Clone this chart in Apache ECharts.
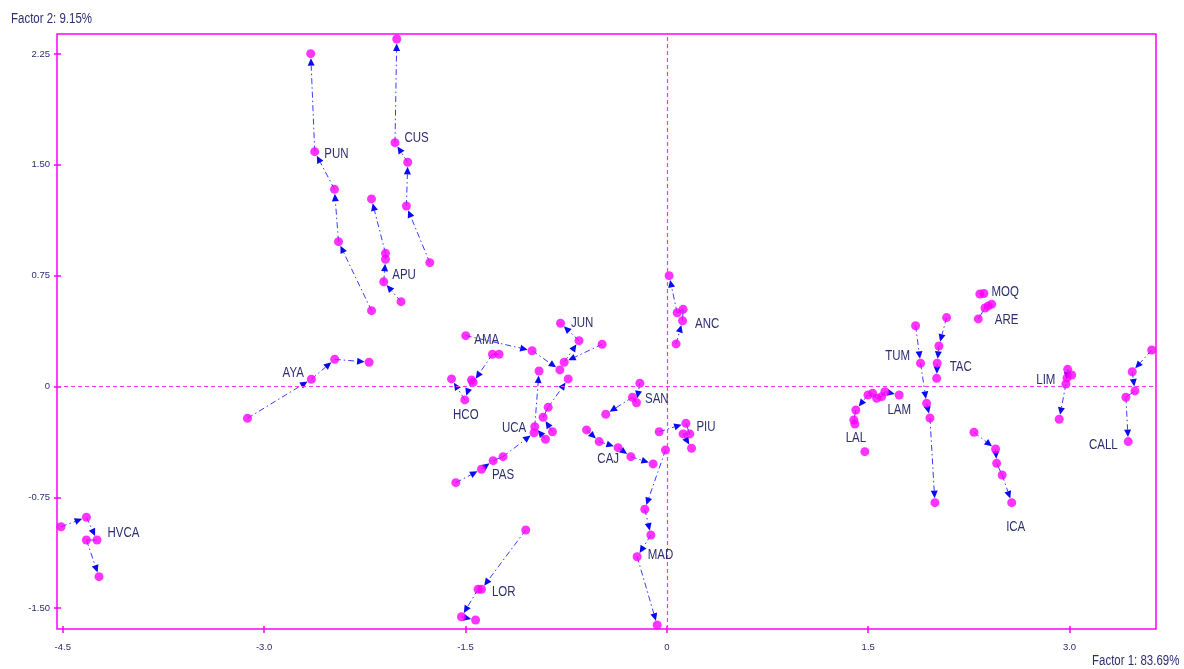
<!DOCTYPE html>
<html>
<head>
<meta charset="utf-8">
<script src="https://cdn.jsdelivr.net/npm/echarts@6/dist/echarts.min.js"></script>
<style>
html,body{margin:0;padding:0;background:#fff;}
#chart{width:1184px;height:669px;}
</style>
</head>
<body>
<div id="chart"></div>
<script>
// ---- Data (Factor 1, Factor 2) per department trajectory ----
const PUN  = [[-2.200,0.513],[-2.446,0.980],[-2.476,1.334],[-2.623,1.589],[-2.653,2.252]];
const CUS  = [[-1.766,0.838],[-1.940,1.221],[-1.930,1.517],[-2.025,1.650],[-2.012,2.351]];
const APU  = [[-1.980,0.574],[-2.109,0.709],[-2.096,0.861],[-2.096,0.901],[-2.200,1.269]];
const AYA  = [[-3.124,-0.215],[-2.648,0.049],[-2.474,0.184],[-2.218,0.164]];
const HVCA = [[-4.513,-0.949],[-4.324,-0.885],[-4.245,-1.039],[-4.324,-1.039],[-4.230,-1.287]];
const AMA  = [[-1.498,0.344],[-1.004,0.242],[-0.797,0.112]];
const HCO  = [[-1.250,0.218],[-1.299,0.218],[-1.443,0.028],[-1.455,0.044],[-1.505,-0.091],[-1.604,0.051]];
const JUN  = [[-0.482,0.286],[-0.765,0.164],[-0.654,0.310],[-0.792,0.428]];
const UCA  = [[-0.904,-0.357],[-0.984,-0.272],[-0.952,0.105]];
const UCA2 = [[-0.852,-0.306],[-0.922,-0.208],[-0.884,-0.141],[-0.735,0.051]];
const PAS  = [[-1.572,-0.651],[-1.381,-0.560],[-1.294,-0.502],[-1.220,-0.475],[-0.989,-0.313]];
const LOR  = [[-1.051,-0.971],[-1.381,-1.372],[-1.406,-1.372],[-1.530,-1.558],[-1.425,-1.580]];
const CAJ  = [[-0.598,-0.294],[-0.504,-0.373],[-0.363,-0.414],[-0.268,-0.475],[-0.102,-0.524]];
const MAD  = [[-0.010,-0.430],[-0.164,-0.831],[-0.119,-1.005],[-0.221,-1.152],[-0.072,-1.614]];
const ANC  = [[0.069,0.288],[0.117,0.445],[0.121,0.522],[0.077,0.499],[0.017,0.750]];
const SAN  = [[-0.201,0.022],[-0.226,-0.110],[-0.256,-0.073],[-0.455,-0.188]];
const PIU  = [[-0.057,-0.306],[0.142,-0.249],[0.171,-0.321],[0.121,-0.321],[0.184,-0.418]];
const TUM  = [[1.853,0.411],[1.890,0.157],[1.935,-0.114],[1.960,-0.213],[1.997,-0.786]];
const LAM  = [[1.533,-0.046],[1.563,-0.080],[1.600,-0.069],[1.624,-0.035],[1.731,-0.058]];
const LAL  = [[1.498,-0.058],[1.408,-0.159],[1.393,-0.227],[1.401,-0.254]];
const LAL0 = [[1.475,-0.441]];
const TAC  = [[2.084,0.466],[2.027,0.274],[2.014,0.157],[2.010,0.055]];
const MOQ  = [[2.332,0.626],[2.362,0.629]];
const ARE  = [[2.320,0.457],[2.370,0.531],[2.394,0.545],[2.420,0.556]];
const ICA  = [[2.288,-0.310],[2.449,-0.423],[2.457,-0.520],[2.498,-0.599],[2.569,-0.786]];
const LIM  = [[2.981,0.058],[3.016,0.078],[2.986,0.116],[2.973,0.017],[2.923,-0.222]];
const CALL = [[3.612,0.247],[3.467,0.100],[3.487,-0.030],[3.420,-0.073],[3.437,-0.373]];

const xTicks = [-4.5,-3.0,-1.5,0,1.5,3.0];
const xTickLabels = ['-4.5','-3.0','-1.5','0','1.5','3.0'];
const yTicks = [-1.5,-0.75,0,0.75,1.5,2.25];
const yTickLabels = ['-1.50','-0.75','0','0.75','1.50','2.25'];
const xTitle = 'Factor 1: 83.69%';
const yTitle = 'Factor 2: 9.15%';

const trajectories = [
  ['PUN',PUN],['CUS',CUS],['APU',APU],['AYA',AYA],['HVCA',HVCA],['AMA',AMA],['HCO',HCO],
  ['JUN',JUN],['UCA',UCA],['',UCA2],['PAS',PAS],['LOR',LOR],['CAJ',CAJ],['MAD',MAD],['ANC',ANC],
  ['SAN',SAN],['PIU',PIU],['TUM',TUM],['LAM',LAM],['LAL',LAL],['',LAL0],['TAC',TAC],['MOQ',MOQ],
  ['ARE',ARE],['ICA',ICA],['LIM',LIM],['CALL',CALL]
];

// ---- label placement (style only): [point index, side, [dx, dy]] ----
const labelPlace = {
  PUN:[3,'right',[1,3]], CUS:[3,'right',[1,-4]], APU:[1,'right',[0,-7]], AYA:[1,'left',[1,-6]],
  HVCA:[2,'right',[2,-7]], AMA:[0,'right',[0,5]], HCO:[4,'bottom',[1,0]], JUN:[3,'right',[2,0]],
  UCA:[1,'left',[0,1]], PAS:[1,'right',[2,6]], LOR:[1,'right',[2,3]], CAJ:[1,'bottom',[9,2]],
  MAD:[3,'right',[2,-2]], ANC:[1,'right',[4,3]], SAN:[1,'right',[0,-4]], PIU:[1,'right',[2,4]],
  TUM:[1,'left',[-2,-7]], LAM:[4,'bottom',[0,0]], LAL:[3,'bottom',[1,-1]], TAC:[2,'right',[4,4]],
  MOQ:[1,'right',[-1,-1]], ARE:[0,'right',[8,1]], ICA:[4,'bottom',[4,9]], LIM:[3,'left',[-2,-4]],
  CALL:[4,'left',[-2,4]]
};

const FONT = "'Liberation Sans',Arial,sans-serif";
const TXT = '#2e2e6e';
const NARROW = 0.82;

const segData = [], ptData = [], lblData = [], lblNames = [];
trajectories.forEach(([name, pts]) => {
  pts.forEach((p, i) => {
    ptData.push(p);
    if (i > 0) segData.push([pts[i-1][0], pts[i-1][1], p[0], p[1]]);
  });
  if (name && labelPlace[name]) {
    const idx = labelPlace[name][0];
    lblData.push([pts[idx][0], pts[idx][1], lblNames.length]);
    lblNames.push(name);
  }
});

const R = 4.5;
function renderSeg(params, api) {
  const p1 = api.coord([api.value(0), api.value(1)]);
  const p2 = api.coord([api.value(2), api.value(3)]);
  const dx = p2[0]-p1[0], dy = p2[1]-p1[1];
  const len = Math.hypot(dx, dy);
  const children = [];
  if (len < 0.5) return {type:'group', children};
  const ux = dx/len, uy = dy/len;
  const L = 7.5, W = 3.5;
  if (len > R + L + 2) {
    const tip = [p2[0]-ux*R, p2[1]-uy*R];
    const base = [tip[0]-ux*L, tip[1]-uy*L];
    children.push({type:'line', shape:{x1:p1[0], y1:p1[1], x2:base[0], y2:base[1]},
      style:{stroke:'#3a3aff', lineWidth:1, lineDash:[6,3,1.5,3]}});
    children.push({type:'polygon', z2: 5,
      shape:{points:[tip, [base[0]-uy*W, base[1]+ux*W], [base[0]+uy*W, base[1]-ux*W]]},
      style:{fill:'#0a0af0'}});
  } else {
    children.push({type:'line', shape:{x1:p1[0], y1:p1[1], x2:p2[0], y2:p2[1]},
      style:{stroke:'#3a3aff', lineWidth:1}});
  }
  return {type:'group', children};
}

function renderLabel(params, api) {
  const p = api.coord([api.value(0), api.value(1)]);
  const name = lblNames[api.value(2)];
  const [, side, off] = labelPlace[name];
  const d = R + 4;
  let x = p[0] + off[0], y = p[1] + off[1], align = 'left', va = 'middle';
  if (side === 'right') { x += d; }
  else if (side === 'left') { x -= d; align = 'right'; }
  else if (side === 'bottom') { y += d; align = 'center'; va = 'top'; }
  return {type:'text', x: x, y: y, scaleX: NARROW, scaleY: 1,
    style:{text: name, x: 0, y: 0, align: align, verticalAlign: va,
      fill: TXT, font: '14px ' + FONT}};
}

const chart = echarts.init(document.getElementById('chart'), null, {renderer:'canvas'});
const XMIN = -4.543, XMAX = 3.644, YMIN = -1.641, YMAX = 2.385;
const axisLabelStyle = {color: TXT, fontFamily: FONT, fontSize: 9.5};
const tickColor = '#ff00ff';

chart.setOption({
  backgroundColor: '#fff',
  animation: false,
  grid: {left: 57, right: 28, top: 34, bottom: 40, show: true, borderColor: '#ff00ff', borderWidth: 1.5, backgroundColor: '#fff'},
  xAxis: [
    {type:'value', min:XMIN, max:XMAX, position:'bottom',
     axisLine:{show:false, onZero:false}, splitLine:{show:false},
     axisTick:{show:true, inside:false, length:4, customValues:xTicks, lineStyle:{color:tickColor, width:1.5}},
     axisLabel:{show:true, customValues:xTicks, margin:13, ...axisLabelStyle,
       formatter:(v)=>{const i = xTicks.findIndex(t=>Math.abs(t-v)<1e-6); return i>=0 ? xTickLabels[i] : '';}}},
    {type:'value', min:XMIN, max:XMAX, position:'bottom',
     axisLine:{show:false, onZero:false}, splitLine:{show:false}, axisLabel:{show:false},
     axisTick:{show:true, inside:true, length:3, customValues:xTicks, lineStyle:{color:tickColor, width:1.5}}}
  ],
  yAxis: [
    {type:'value', min:YMIN, max:YMAX, position:'left',
     axisLine:{show:false, onZero:false}, splitLine:{show:false},
     axisTick:{show:true, inside:false, length:3, customValues:yTicks, lineStyle:{color:tickColor, width:1.5}},
     axisLabel:{show:true, customValues:yTicks, margin:7, ...axisLabelStyle,
       formatter:(v)=>{const i = yTicks.findIndex(t=>Math.abs(t-v)<1e-6); return i>=0 ? yTickLabels[i] : '';}}},
    {type:'value', min:YMIN, max:YMAX, position:'left',
     axisLine:{show:false, onZero:false}, splitLine:{show:false}, axisLabel:{show:false},
     axisTick:{show:true, inside:true, length:4, customValues:yTicks, lineStyle:{color:tickColor, width:1.5}}}
  ],
  graphic: [
    {type:'text', x: 11, y: 19, scaleX: NARROW, style:{text: yTitle, x:0, y:0, verticalAlign:'middle', fill: TXT, font: "14px " + FONT}},
    {type:'text', x: 1092, y: 661, scaleX: NARROW, style:{text: xTitle, x:0, y:0, verticalAlign:'middle', fill: TXT, font: "14px " + FONT}}
  ],
  series: [
    {type:'custom', name:'zero', data:[], xAxisIndex:0, yAxisIndex:0, renderItem:()=>null,
     markLine:{silent:true, symbol:'none', label:{show:false},
       lineStyle:{color:'#ff33ff', type:[4,3], width:1.2, opacity:1},
       emphasis:{disabled:true},
       data:[{xAxis:0},{yAxis:0}]}},
    {type:'custom', name:'segments', xAxisIndex:0, yAxisIndex:0, data: segData,
     renderItem: renderSeg, clip:false, z: 3,
     encode:{x:[0,2], y:[1,3]}},
    {type:'scatter', name:'points', xAxisIndex:0, yAxisIndex:0, data: ptData,
     symbol:'circle', symbolSize: 9, itemStyle:{color:'#ff00ff'}, z: 4},
    {type:'custom', name:'labels', xAxisIndex:0, yAxisIndex:0, data: lblData,
     renderItem: renderLabel, clip:false, z: 5, encode:{x:0, y:1}}
  ]
});
</script>
</body>
</html>
